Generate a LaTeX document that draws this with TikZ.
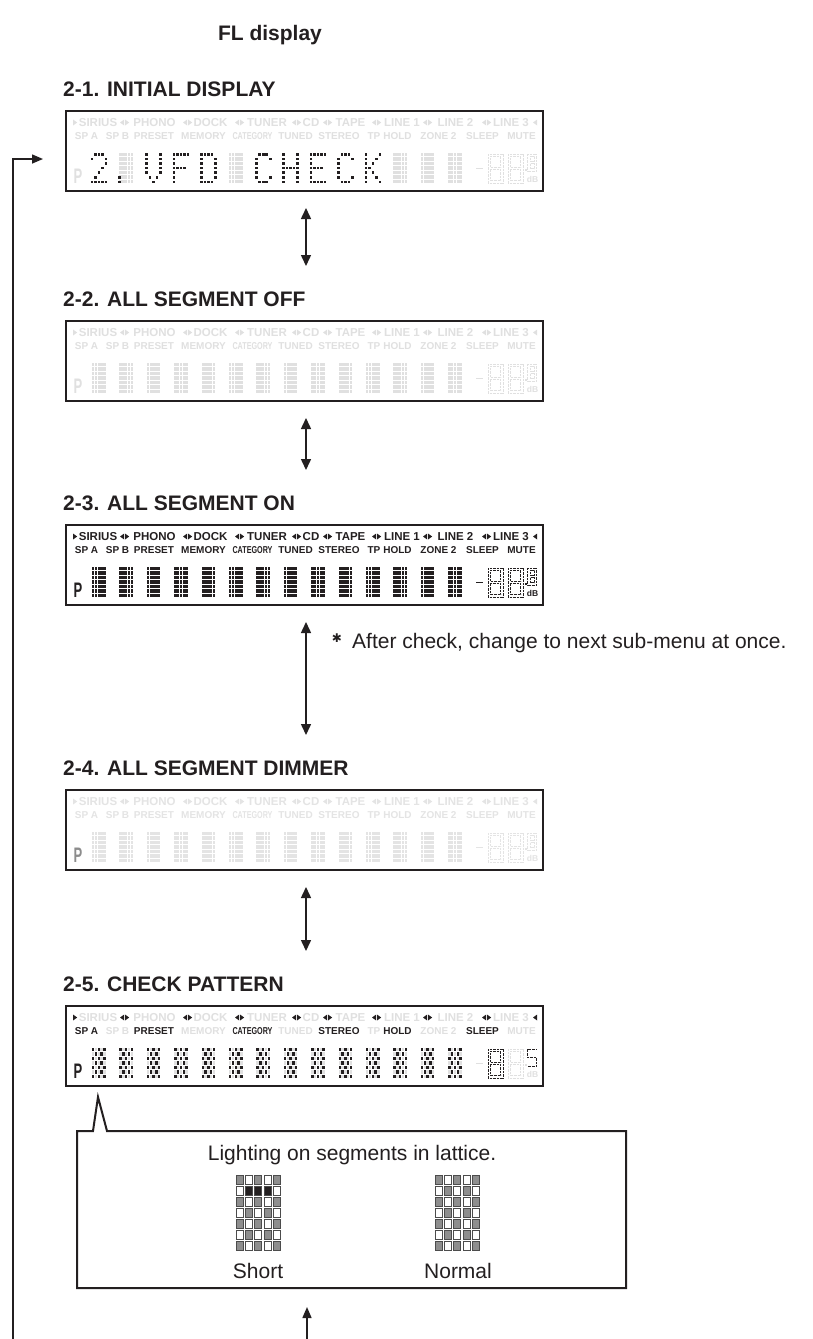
\documentclass[tikz,border=0pt]{standalone}
\usepackage{fontspec}
\setmainfont{Liberation Sans}
\newfontfamily\starfont{DejaVu Sans}
\usetikzlibrary{arrows.meta, calc, positioning}

\definecolor{ink}{HTML}{231F20}
\definecolor{segoff}{HTML}{E0E0E0}
\definecolor{segdim}{HTML}{E4E4E4}
\definecolor{latgray}{HTML}{8E8E8E}

\tikzset{
    heading/.style={font=\bfseries\fontsize{21}{25}\selectfont, anchor=base west, inner sep=0pt, text=ink},
    plain/.style={font=\fontsize{21}{25}\selectfont, anchor=base, inner sep=0pt, text=ink},
    dispbox/.style={draw=ink, line width=1.6pt, minimum width=477pt, minimum height=80pt, inner sep=0pt},
    updown/.style={{Triangle[width=10pt,length=11pt]}-{Triangle[width=10pt,length=11pt]}, line width=1.5pt, draw=ink},
    feed/.style={-{Triangle[width=9pt,length=11pt]}, line width=1.5pt, draw=ink},
    rowa/.style={font=\bfseries\fontsize{11.5}{12}\selectfont, anchor=base, inner sep=0pt},
    rowb/.style={font=\bfseries\fontsize{10}{11}\selectfont, anchor=base, inner sep=0pt},
    bigp/.style={font=\bfseries\fontsize{21}{21}\selectfont, anchor=base west, inner sep=0pt},
    dbtext/.style={font=\bfseries\fontsize{8.5}{9}\selectfont, anchor=base, inner sep=0pt},
    seg/.style={line width=0.6pt, dash pattern=on 0.8pt off 0.6pt},
    callout/.style={draw=ink, line width=2pt, line join=miter},
    latcell/.style={draw=black!70, line width=0.8pt}
}

\newcommand\allseg[1]{\colorlet{wA}{#1}\colorlet{mA}{#1}\colorlet{bA}{#1}\colorlet{bB}{#1}%
    \colorlet{pP}{#1}\colorlet{cellA}{#1}\colorlet{cellB}{#1}\colorlet{mn}{#1}\colorlet{dgA}{#1}%
    \colorlet{dgB}{#1}\colorlet{dpt}{#1}\colorlet{sm}{#1}\colorlet{dbc}{#1}}
\newcommand\mkR[2]{\fill[mA] (#1,#2-3) -- (#1+4.2,#2) -- (#1,#2+3) -- cycle;}
\newcommand\mkL[2]{\fill[mA] (#1+4.2,#2-3) -- (#1,#2) -- (#1+4.2,#2+3) -- cycle;}
\newcommand\mkP[2]{\mkL{#1}{#2}\mkR{#1+5}{#2}}
\newcommand\segout[5]{\draw[seg, draw=#5] (#1,#2) rectangle ++(#3,#4)
    (#1+2.4,#2+2.4) rectangle (#1+#3-2.4,#2+#4/2-1.2)
    (#1+2.4,#2+#4/2+1.2) rectangle (#1+#3-2.4,#2+#4-2.4);}
\newcommand\smalleight{\segout{527.5}{43}{9}{17}{sm}}
\newcommand\smallfive{\draw[seg, draw=sm] (536.5,43) -- (527.5,43) -- (527.5,51.5) -- (536.5,51.5) -- (536.5,60) -- (527.5,60);}
\newcommand\cells[1]{\foreach \k in {#1}{\foreach \c in {0,...,4}{\foreach \r in {0,...,6}{%
    \ifodd\numexpr\c+\r\relax\def\dc{cellB}\else\def\dc{cellA}\fi
    \fill[\dc] ({92+\k*27.4+\c*2.8},{42+\r*4.45}) rectangle ++(2.3,3.3);}}}}
\newcommand\glyph[3]{\foreach \c/\r in #2 {\fill[ink] ({90.5+#1*27.4+\c*3.5},{#3+42+\r*4.6}) rectangle ++(2.6,2.6);}}

\def\glyTwo{1/0,2/0,3/0,0/1,4/1,4/2,3/3,2/4,1/5,0/6,1/6,2/6,3/6,4/6}
\def\glyDot{0/5,0/6}
\def\glyV{0/0,4/0,0/1,4/1,0/2,4/2,0/3,4/3,0/4,4/4,1/5,3/5,2/6}
\def\glyF{0/0,1/0,2/0,3/0,4/0,0/1,0/2,0/3,1/3,2/3,3/3,0/4,0/5,0/6}
\def\glyD{0/0,1/0,2/0,3/0,0/1,4/1,0/2,4/2,0/3,4/3,0/4,4/4,0/5,4/5,0/6,1/6,2/6,3/6}
\def\glyC{1/0,2/0,3/0,0/1,4/1,0/2,0/3,0/4,0/5,4/5,1/6,2/6,3/6}
\def\glyH{0/0,4/0,0/1,4/1,0/2,4/2,0/3,1/3,2/3,3/3,4/3,0/4,4/4,0/5,4/5,0/6,4/6}
\def\glyE{0/0,1/0,2/0,3/0,4/0,0/1,0/2,0/3,1/3,2/3,3/3,0/4,0/5,0/6,1/6,2/6,3/6,4/6}
\def\glyK{0/0,4/0,0/1,3/1,0/2,2/2,0/3,1/3,0/4,2/4,0/5,3/5,0/6,4/6}

\newcommand\vfdface[4]{%
\begin{scope}[shift={(0,#2)}]
    \mkR{73}{11.5}
    \foreach \x in {120,183,235,292,323,372,423,482}{\mkP{\x}{11.5}}
    \mkL{533}{11.5}
    \foreach \w/\x/\n in {SIRIUS/98/a,PHONO/154.5/b,DOCK/210.5/c,TUNER/267/d,CD/311/e,TAPE/350.5/f,LINE 1/402/g,LINE 2/455.5/h,LINE 3/511/i}
        \node[rowa, text=wA] (#1-a\n) at (\x,15.5) {\w};
    \foreach \w/\x/\n/\cc in {SP A/86.5/a/bA,SP B/117.5/b/bB,PRESET/154/c/bA,MEMORY/203.5/d/bB,TUNED/295.5/f/bB,STEREO/339/g/bA,TP/374/h/bB,HOLD/397.5/i/bA,ZONE 2/438.5/j/bB,SLEEP/482.5/k/bA,MUTE/521.5/l/bB}
        \node[rowb, text=\cc] (#1-b\n) at (\x,28.6) {\w};
    \node[rowb, text=bA] (#1-be) at (252.5,28.6) {\scalebox{0.72}[1]{CATEGORY}};
    \node[bigp, text=pP] (#1-p) at (73.5,72) {\scalebox{0.62}[1]{P}};
    \cells{#4}
    \fill[mn] (476,56.5) rectangle ++(7,1.6);
    \segout{488}{43}{15}{29}{dgA}
    \segout{508}{43}{15}{29}{dgB}
    \fill[dpt] (524.6,58) rectangle ++(2,2);
    #3
    \node[dbtext, text=dbc] (#1-db) at (532.5,71.5) {dB};
\end{scope}}

\newcommand\lattice[2]{\foreach \c in {0,...,4}{\foreach \r in {0,...,6}{%
    \ifodd\numexpr\c+\r\relax\def\lf{white}\else\def\lf{latgray}\fi
    \filldraw[latcell, fill=\lf] ({#1+\c*9.4},{#2+\r*11.1}) rectangle ++(7,9.2);}}}

\begin{document}
\begin{tikzpicture}[x=1pt, y=-1pt]
    \fill[white] (0,0) rectangle (812,1339);
    \useasboundingbox (0,0) rectangle (812,1339);

    \node[heading, anchor=base] (fl) at (270,40) {FL display};

    % 2-1
    \allseg{segoff}
    \node[heading] (t1) at (63,96) {2-1. INITIAL DISPLAY};
    \node[dispbox] (d1) at (304.5,151) {};
    \vfdface{d1}{111}{\smalleight}{1,5,11,12,13}
    \glyph{0}{\glyTwo}{111}
    \glyph{1}{\glyDot}{111}
    \glyph{2}{\glyV}{111}
    \glyph{3}{\glyF}{111}
    \glyph{4}{\glyD}{111}
    \glyph{6}{\glyC}{111}
    \glyph{7}{\glyH}{111}
    \glyph{8}{\glyE}{111}
    \glyph{9}{\glyC}{111}
    \glyph{10}{\glyK}{111}

    % 2-2
    \node[heading] (t2) at (63,306) {2-2. ALL SEGMENT OFF};
    \node[dispbox] (d2) at (304.5,361) {};
    \vfdface{d2}{321}{\smalleight}{0,...,13}

    % 2-3
    \allseg{ink}
    \node[heading] (t3) at (63,510) {2-3. ALL SEGMENT ON};
    \node[dispbox] (d3) at (304.5,565) {};
    \vfdface{d3}{525}{\smalleight}{0,...,13}

    % 2-4
    \allseg{segdim}
    \colorlet{pP}{black!45}
    \node[heading] (t4) at (63,775) {2-4. ALL SEGMENT DIMMER};
    \node[dispbox] (d4) at (304.5,830) {};
    \vfdface{d4}{790}{\smalleight}{0,...,13}

    % 2-5
    \allseg{segoff}
    \colorlet{mA}{ink}\colorlet{bA}{ink}\colorlet{pP}{ink}\colorlet{cellA}{ink}\colorlet{dgA}{ink}\colorlet{sm}{ink}
    \node[heading] (t5) at (63,991) {2-5. CHECK PATTERN};
    \node[dispbox] (d5) at (304.5,1046) {};
    \vfdface{d5}{1006}{\smallfive}{0,...,13}

    \coordinate (a1t) at (306,208);
    \coordinate (a1b) at (306,266);
    \coordinate (a2t) at (306,418);
    \coordinate (a2b) at (306,470);
    \coordinate (a3t) at (306,622);
    \coordinate (a3b) at (306,735);
    \coordinate (a4t) at (306,887);
    \coordinate (a4b) at (306,951);
    \draw[updown] (a1t) -- (a1b);
    \draw[updown] (a2t) -- (a2b);
    \draw[updown] (a3t) -- (a3b);
    \draw[updown] (a4t) -- (a4b);

    \node[font=\starfont\bfseries\fontsize{12}{12}\selectfont, text=ink, anchor=base, inner sep=0pt] (star) at (337,642) {✱};
    \node[plain, anchor=base west] (note) at (352,648) {After check, change to next sub-menu at once.};

    % callout
    \coordinate (tip) at (98,1097);
    \draw[callout] (77,1131) -- (93,1131) -- (tip) -- (107,1131) -- (626,1131) -- (626,1288) -- (77,1288) -- cycle;
    \node[plain] (lat) at (352,1160) {Lighting on segments in lattice.};
    \lattice{236}{1175}
    \foreach \c in {1,2,3}
        \filldraw[latcell, fill=ink] ({236+\c*9.4},1186.1) rectangle ++(7,9.2);
    \lattice{435}{1175}
    \node[plain] (short) at (258,1278) {Short};
    \node[plain] (normal) at (458,1278) {Normal};

    \coordinate (upb) at (307,1339);
    \coordinate (upt) at (307,1307);
    \draw[feed] (upb) -- (upt);

    \coordinate (fb0) at (13,1339);
    \coordinate (fb1) at (43,159);
    \draw[feed] (fb0) |- (fb1);
\end{tikzpicture}
\end{document}
